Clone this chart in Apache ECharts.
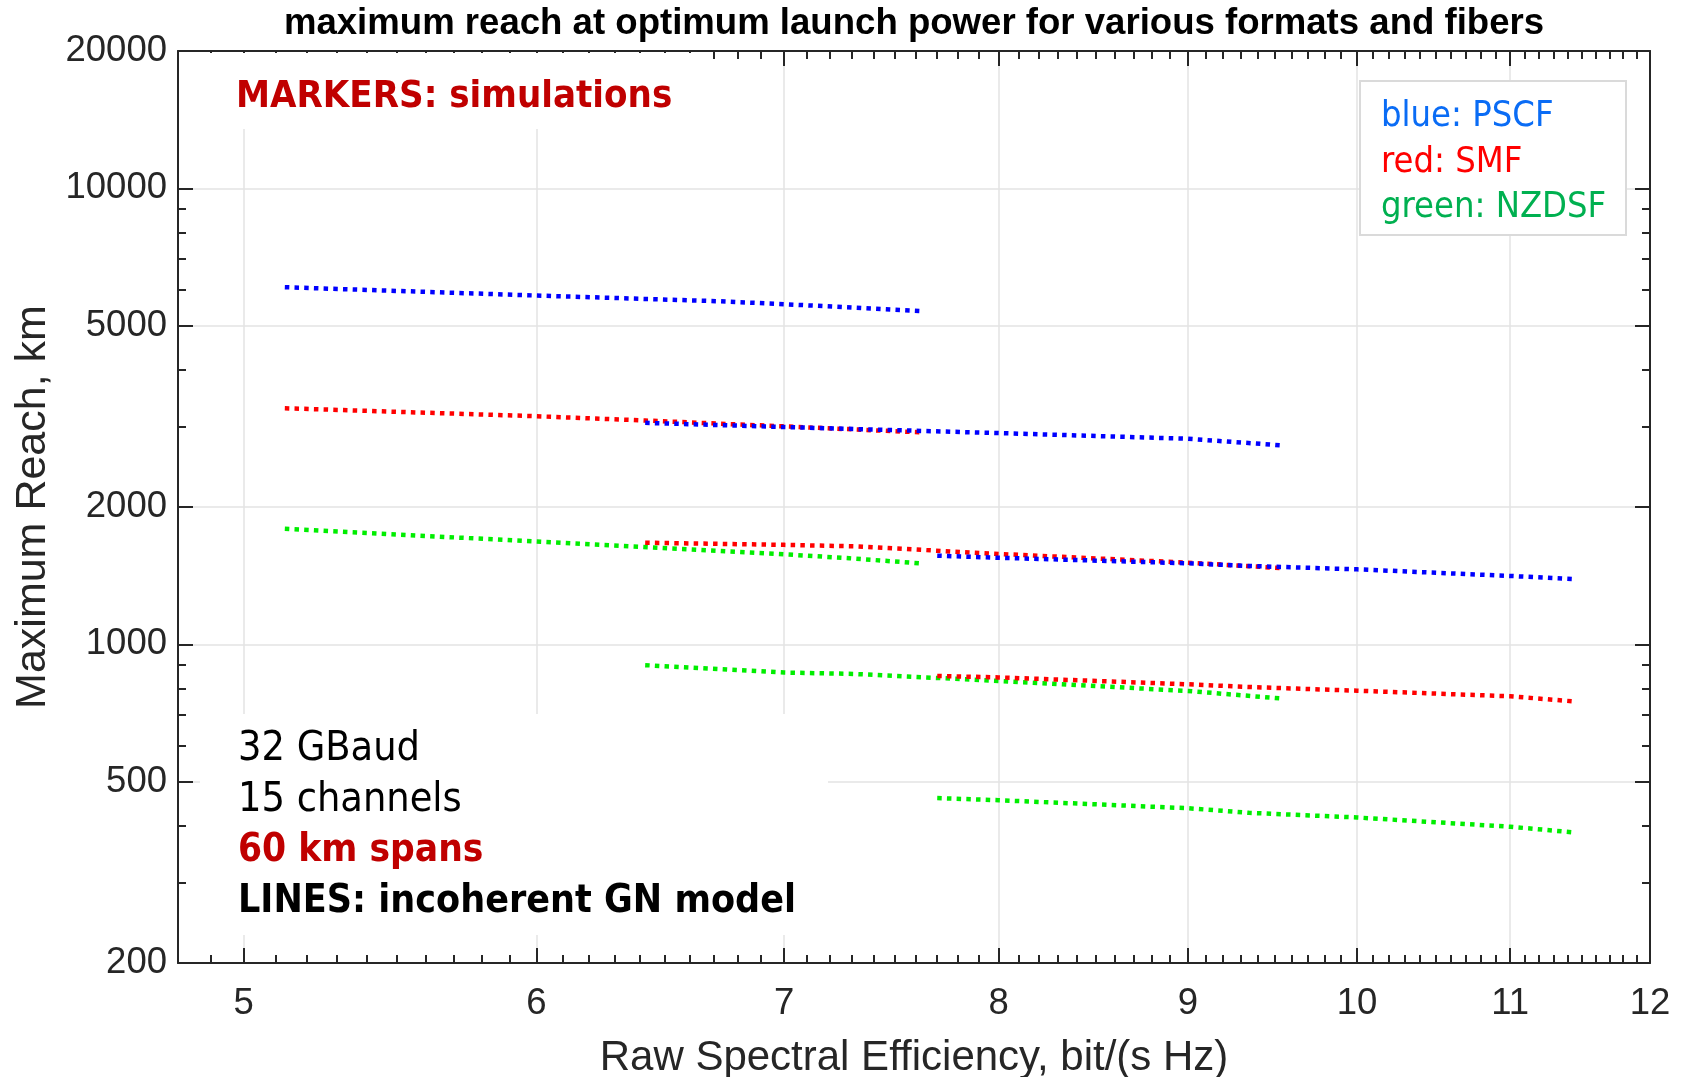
<!DOCTYPE html>
<html>
<head>
<meta charset="utf-8">
<script src="https://cdn.jsdelivr.net/npm/echarts@6/dist/echarts.min.js"></script>
<style>
  html, body { margin: 0; padding: 0; background: #ffffff; }
  #chart { width: 1682px; height: 1077px; }
</style>
</head>
<body>
<div id="chart"></div>
<script>
// Maximum reach (km) versus raw spectral efficiency (bit/(s Hz)), GN-model curves.
// Three format sweeps (A, B, C) for each of the three fibres.
const pscfA_x = [5.13, 6.0, 6.72, 7.0, 7.62];
const pscfA_y = [6068, 5818, 5653, 5570, 5380];
const pscfB_x = [6.42, 7.0, 8.0, 9.0, 9.53];
const pscfB_y = [3059, 2995, 2905, 2823, 2732];
const pscfC_x = [7.70, 8.0, 9.0, 9.35, 10.0, 11.0, 11.43];
const pscfC_y = [1564, 1548, 1505, 1485, 1460, 1412, 1390];

const smfA_x = [5.13, 6.0, 6.42, 7.0, 7.62];
const smfA_y = [3293, 3163, 3095, 3005, 2916];
const smfB_x = [6.42, 7.0, 7.31, 8.0, 9.0, 9.53];
const smfB_y = [1670, 1652, 1640, 1578, 1510, 1470];
const smfC_x = [7.70, 8.0, 9.0, 9.35, 10.0, 11.0, 11.43];
const smfC_y = [852, 846, 817, 806, 791, 769, 750];

const nzdsfA_x = [5.13, 6.0, 7.0, 7.29, 7.62];
const nzdsfA_y = [1791, 1680, 1575, 1544, 1505];
const nzdsfB_x = [6.42, 7.0, 7.31, 8.0, 9.0, 9.53];
const nzdsfB_y = [900, 867, 861, 831, 790, 761];
const nzdsfC_x = [7.70, 8.0, 9.0, 9.35, 10.0, 11.0, 11.43];
const nzdsfC_y = [460, 455, 437, 427, 417, 398, 387];

// Axis ticks
const xMajorTicks = [5, 6, 7, 8, 9, 10, 11, 12];
const xMinorTicks = [];
for (let k = 49; k <= 119; k++) { if (k % 10 !== 0) xMinorTicks.push(k / 10); }
const yMajorTicks = [200, 500, 1000, 2000, 5000, 10000, 20000];
const yMinorTicks = [300, 400, 600, 700, 800, 900, 3000, 4000, 6000, 7000, 8000, 9000];

const X_MIN = 4.8, X_MAX = 12;
const Y_MIN = 200, Y_MAX = 20000;

const AXIS_COLOR = '#262626';
const GRID_COLOR = '#e3e3e3';
const TICK_FONT = '"Liberation Sans", Arial, sans-serif';
const NOTE_FONT = '"DejaVu Sans Condensed", "DejaVu Sans", sans-serif';

const zip = (xs, ys) => xs.map((x, i) => [x, ys[i]]);

function curve(name, xs, ys, color) {
  return {
    name: name,
    type: 'line',
    xAxisIndex: 0,
    yAxisIndex: 0,
    data: zip(xs, ys),
    symbol: 'none',
    showSymbol: false,
    silent: true,
    clip: true,
    z: 3,
    lineStyle: { color: color, width: 4.5, type: [4.5, 5.2], cap: 'butt' }
  };
}

function xAxisDef(position, ticks, len, opts) {
  return Object.assign({
    type: 'log', logBase: 10, min: X_MIN, max: X_MAX, position: position, gridIndex: 0,
    axisLine: { show: false },
    axisTick: { show: true, inside: true, length: len, customValues: ticks,
                lineStyle: { color: AXIS_COLOR, width: 2 } },
    axisLabel: { show: false },
    splitLine: { show: false },
    minorTick: { show: false }, minorSplitLine: { show: false }
  }, opts || {});
}
function yAxisDef(position, ticks, len, opts) {
  return Object.assign({
    type: 'log', logBase: 10, min: Y_MIN, max: Y_MAX, position: position, gridIndex: 0,
    axisLine: { show: false },
    axisTick: { show: true, inside: true, length: len, customValues: ticks,
                lineStyle: { color: AXIS_COLOR, width: 2 } },
    axisLabel: { show: false },
    splitLine: { show: false },
    minorTick: { show: false }, minorSplitLine: { show: false }
  }, opts || {});
}

const chart = echarts.init(document.getElementById('chart'), null, { renderer: 'canvas' });

const option = {
  animation: false,
  backgroundColor: '#ffffff',
  grid: { left: 178, right: 32, top: 51, bottom: 114, containLabel: false, outerBoundsMode: 'none',
          show: false },
  xAxis: [
    xAxisDef('bottom', xMajorTicks, 15, {
      axisLine: { show: true, onZero: false, lineStyle: { color: AXIS_COLOR, width: 2 } },
      axisLabel: { show: true, customValues: xMajorTicks, margin: 22, color: AXIS_COLOR,
                   fontSize: 36.5, fontFamily: TICK_FONT,
                   formatter: v => String(Math.round(v)) },
      splitLine: { show: true, lineStyle: { color: GRID_COLOR, width: 1.5 } },
      name: 'Raw Spectral Efficiency, bit/(s Hz)',
      nameLocation: 'middle', nameGap: 74,
      nameTextStyle: { color: AXIS_COLOR, fontSize: 42, fontFamily: TICK_FONT }
    }),
    xAxisDef('bottom', xMinorTicks, 8),
    xAxisDef('top', xMajorTicks, 15, {
      axisLine: { show: true, onZero: false, lineStyle: { color: AXIS_COLOR, width: 2 } }
    }),
    xAxisDef('top', xMinorTicks, 8)
  ],
  yAxis: [
    yAxisDef('left', yMajorTicks, 15, {
      axisLine: { show: true, onZero: false, lineStyle: { color: AXIS_COLOR, width: 2 } },
      axisLabel: { show: true, customValues: yMajorTicks, margin: 11, color: AXIS_COLOR,
                   fontSize: 36.5, fontFamily: TICK_FONT,
                   formatter: v => String(Math.round(v)) },
      splitLine: { show: true, lineStyle: { color: GRID_COLOR, width: 1.5 } },
      name: 'Maximum Reach, km',
      nameLocation: 'middle', nameGap: 123, nameRotate: 90,
      nameTextStyle: { color: AXIS_COLOR, fontSize: 43, fontFamily: TICK_FONT }
    }),
    yAxisDef('left', yMinorTicks, 8),
    yAxisDef('right', yMajorTicks, 15, {
      axisLine: { show: true, onZero: false, lineStyle: { color: AXIS_COLOR, width: 2 } }
    }),
    yAxisDef('right', yMinorTicks, 8)
  ],
  series: [
    curve('PSCF A', pscfA_x, pscfA_y, '#0000ff'),
    curve('SMF A', smfA_x, smfA_y, '#ff0000'),
    curve('NZDSF A', nzdsfA_x, nzdsfA_y, '#00ee00'),
    curve('NZDSF B', nzdsfB_x, nzdsfB_y, '#00ee00'),
    curve('SMF B', smfB_x, smfB_y, '#ff0000'),
    curve('PSCF B', pscfB_x, pscfB_y, '#0000ff'),
    curve('NZDSF C', nzdsfC_x, nzdsfC_y, '#00ee00'),
    curve('SMF C', smfC_x, smfC_y, '#ff0000'),
    curve('PSCF C', pscfC_x, pscfC_y, '#0000ff')
  ],
  graphic: [
    // title
    { type: 'text', x: 914, y: 24, z: 20,
      style: { text: 'maximum reach at optimum launch power for various formats and fibers',
               fill: '#000000', font: 'bold 36.6px "Liberation Sans", Arial, sans-serif',
               align: 'center', verticalAlign: 'middle' } },
    // note boxes (white background hides the grid)
    { type: 'rect', z: 10, shape: { x: 200, y: 53, width: 500, height: 76 },
      style: { fill: '#ffffff' } },
    { type: 'text', x: 236, y: 97, z: 11,
      style: { text: 'MARKERS: simulations', fill: '#c00000',
               font: 'bold 38px ' + NOTE_FONT, verticalAlign: 'middle' } },
    { type: 'rect', z: 10, shape: { x: 1360, y: 81, width: 266, height: 154 },
      style: { fill: '#ffffff', stroke: '#dadada', lineWidth: 2 } },
    { type: 'text', x: 1381, y: 116.5, z: 11,
      style: { text: 'blue: PSCF', fill: '#0a6cf5', font: '36px ' + NOTE_FONT, verticalAlign: 'middle' } },
    { type: 'text', x: 1381, y: 162.5, z: 11,
      style: { text: 'red: SMF', fill: '#ff0000', font: '36px ' + NOTE_FONT, verticalAlign: 'middle' } },
    { type: 'text', x: 1381, y: 207.5, z: 11,
      style: { text: 'green: NZDSF', fill: '#00b050', font: '36px ' + NOTE_FONT, verticalAlign: 'middle' } },
    { type: 'rect', z: 10, shape: { x: 200, y: 714, width: 628, height: 221 },
      style: { fill: '#ffffff' } },
    { type: 'text', x: 238, y: 749, z: 11,
      style: { text: '32 GBaud', fill: '#000000', font: '41px ' + NOTE_FONT, verticalAlign: 'middle' } },
    { type: 'text', x: 238, y: 800, z: 11,
      style: { text: '15 channels', fill: '#000000', font: '41px ' + NOTE_FONT, verticalAlign: 'middle' } },
    { type: 'text', x: 238, y: 851, z: 11,
      style: { text: '60 km spans', fill: '#c00000', font: 'bold 38.5px ' + NOTE_FONT, verticalAlign: 'middle' } },
    { type: 'text', x: 238, y: 902, z: 11,
      style: { text: 'LINES: incoherent GN model', fill: '#000000', font: 'bold 39px ' + NOTE_FONT, verticalAlign: 'middle' } }
  ]
};

chart.setOption(option);
</script>
</body>
</html>
